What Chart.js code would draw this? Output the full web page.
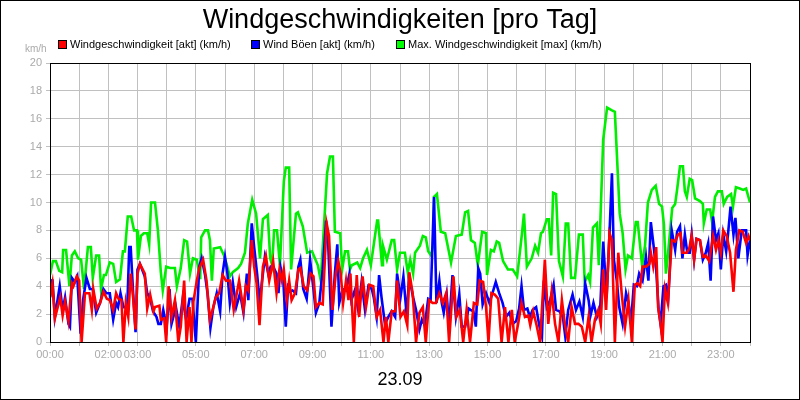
<!DOCTYPE html>
<html><head><meta charset="utf-8">
<script src="https://cdn.jsdelivr.net/npm/chart.js@4/dist/chart.umd.min.js"></script>
<style>html,body{margin:0;padding:0;background:#fff}#w{width:800px;height:400px;position:relative}</style>
</head><body><div id="w"><canvas id="c" width="800" height="400"></canvas></div>
<script>
const title = "Windgeschwindigkeiten [pro Tag]";
const dateLabel = "23.09";
const unitLabel = "km/h";
const seriesNames = ["Windgeschwindigkeit [akt] (km/h)", "Wind Böen [akt] (km/h)", "Max. Windgeschwindigkeit [max] (km/h)"];
const tickHours = [0,2,3,5,7,9,11,13,15,17,19,21,23];

// times in minutes after midnight, values in km/h
const redT = [0,5,10,21,26,31,38,45,48,55,60,65,72,81,86,89,96,103,110,117,123,130,136,141,147,151,156,161,166,171,176,180,185,195,200,206,213,216,225,228,235,239,244,250,257,264,269,276,281,287,291,295,302,307,315,322,329,336,341,348,355,362,370,378,389,398,403,408,415,420,425,431,438,444,451,459,466,472,477,481,487,492,497,504,511,515,522,529,536,542,547,554,561,569,574,581,588,593,598,603,609,614,618,625,631,636,643,650,657,665,672,679,686,691,696,703,710,714,721,728,735,739,746,753,760,767,773,780,787,794,801,808,815,821,830,836,843,850,857,864,872,879,884,891,897,902,908,915,922,929,936,943,950,956,963,970,977,984,988,994,1001,1008,1018,1025,1032,1039,1046,1053,1059,1066,1073,1080,1087,1094,1101,1108,1114,1121,1128,1133,1138,1144,1151,1156,1162,1169,1176,1183,1190,1197,1203,1208,1214,1219,1226,1233,1236,1241,1247,1251,1256,1260,1265,1271,1279,1286,1292,1297,1301,1310,1315,1320,1325,1330,1337,1343,1349,1356,1364,1370,1375,1380,1385,1392,1399,1406,1411,1418,1425,1432,1437,1440];
const redV = [3.2,4.2,1.7,3.2,1.9,2.9,1.5,4.2,4.0,4.7,4.4,0,3.5,3.5,2.3,3.8,2.4,2.8,3.6,3.1,3.0,2.3,3.5,3.1,3.0,0,2.8,1.8,4.9,3.2,0.9,4.9,5.6,4.9,2.4,3.4,2.2,2.5,2.6,1.6,1.7,0,4.0,1.8,3.0,0,1.1,4.4,0,2.5,0,2.9,4.4,5.3,5.9,4.4,1.6,2.5,3.2,3.5,4.8,4.4,4.4,2.3,4.4,2.3,4.0,3.7,7.3,5.4,4.2,1.2,5.4,6.2,4.4,5.8,3.5,5.2,4.4,5.2,3.0,4.4,3.0,3.5,5.2,5.3,4.0,3.7,4.9,4.7,2.5,2.8,2.7,8.5,7.6,2.3,4.9,5.8,4.9,2.8,4.4,3.0,4.9,0,4.8,1.8,4.7,2.5,4.1,4.0,1.8,2.3,0,1.8,0,2.2,2.2,4.4,1.8,2.2,1.2,5.0,3.5,0,2.1,2.5,0,3.0,2.8,2.8,3.5,2.8,3.5,0,4.7,1.8,2.3,0,2.3,0,2.8,2.7,4.4,4.3,2.5,0,3.5,3.4,3.1,0,2.5,0,2.3,0,1.3,2.8,1.8,1.9,1.2,2.2,1.2,0,5.9,1.3,3.6,1.3,0,3.0,1.3,0,2.5,1.3,1.3,1.1,0,1.8,0,1.6,2.3,1.3,5.2,2.3,7.8,7.3,0,6.4,3.5,1.1,3.0,0,4.1,4.2,4.0,5.4,5.4,5.6,6.4,5.4,6.8,2.5,1.3,0,3.8,2.8,7.3,7.2,7.7,7.8,6.4,6.4,6.7,7.6,5.9,7.4,7.3,6.1,6.2,5.8,7.6,6.6,7.3,6.4,8.0,7.6,6.4,3.6,6.6,8.0,7.9,7.1,7.6,7.3];

const blueT = [0,5,10,20,26,31,38,41,45,51,56,63,68,75,82,88,95,103,110,116,123,130,136,140,145,151,159,163,166,171,176,180,185,195,200,206,212,219,223,228,233,240,246,250,259,266,273,280,287,293,300,307,312,319,324,330,336,343,350,355,360,365,370,376,383,391,398,405,408,415,420,426,431,435,442,449,454,459,466,470,474,480,485,490,492,499,506,511,515,521,528,535,542,547,554,561,568,572,579,586,591,595,602,609,616,620,627,634,641,648,655,662,666,672,677,682,689,696,703,710,714,721,727,734,739,742,747,753,760,765,771,778,783,790,795,801,806,810,816,821,828,835,842,847,854,861,865,871,876,881,885,890,897,904,911,917,924,931,938,945,952,959,965,970,975,982,987,993,1000,1007,1012,1016,1022,1029,1036,1041,1048,1055,1060,1066,1075,1082,1089,1096,1101,1108,1112,1118,1125,1132,1138,1145,1151,1156,1160,1166,1171,1178,1185,1190,1195,1201,1207,1212,1219,1226,1231,1236,1241,1247,1252,1256,1262,1267,1272,1279,1286,1290,1296,1301,1306,1311,1316,1320,1325,1330,1337,1343,1349,1354,1359,1364,1370,1375,1380,1385,1391,1395,1400,1406,1410,1416,1423,1432,1435,1440];
const blueV = [3.2,4.5,1.8,4.0,2.3,3.2,1.3,1.1,4.6,4.3,4.7,0.6,3.0,4.6,3.8,3.8,2.1,2.8,3.8,3.5,3.5,1.6,2.8,2.5,3.5,2.5,2.5,6.8,6.8,3.5,0.7,5.2,5.6,4.7,3.5,3.1,2.2,1.8,1.3,1.3,2.3,1.1,3.8,1.3,2.5,1.1,3.1,1.6,3.1,3.1,0,5.4,6.0,4.8,3.5,1.0,2.5,3.5,2.2,4.9,6.1,4.9,2.8,4.3,2.5,3.5,2.1,4.9,3.0,8.5,6.8,4.9,3.0,4.0,6.1,4.9,5.4,5.4,4.9,3.5,5.4,4.4,1.1,4.2,3.6,3.7,3.5,5.4,5.9,3.8,3.1,5.9,3.8,2.1,2.8,5.2,8.7,7.3,1.1,4.9,7.0,2.8,3.8,3.7,4.9,3.0,3.7,2.3,4.3,2.3,4.0,3.8,3.2,1.8,4.8,3.2,1.3,1.8,2.2,1.8,4.9,3.2,4.7,1.8,4.9,4.1,3.2,2.3,0.9,1.6,1.2,3.1,3.0,10.4,2.8,4.4,2.8,2.1,3.4,1.1,4.8,1.8,3.4,1.1,1.1,2.4,2.3,2.2,1.1,5.3,4.9,2.7,3.5,2.8,3.6,4.3,3.5,2.8,1.8,2.1,1.3,1.5,2.4,4.0,2.3,2.4,1.8,2.3,2.5,1.1,0.4,4.4,2.5,3.0,4.1,2.3,2.2,1.8,0.4,2.3,3.4,2.3,2.9,1.8,4.2,3.0,1.9,2.8,1.8,2.5,7.2,3.2,7.8,12.1,5.9,4.4,2.5,1.3,3.5,2.8,1.3,4.1,4.0,4.9,4.4,6.1,4.4,8.6,7.1,5.2,2.3,1.3,4.0,4.1,3.2,8.0,6.6,7.9,8.3,6.0,7.7,6.4,6.4,7.7,5.9,7.4,7.3,5.9,6.4,7.1,4.4,9.0,7.3,7.8,5.2,7.7,6.5,7.8,9.7,7.7,8.9,6.0,8.0,8.0,6.2,7.3];

const greenT = [0,6,12,19,25,27,33,40,45,51,58,64,70,78,84,88,95,101,105,111,115,123,130,136,144,150,154,160,167,173,179,181,187,193,200,204,208,216,222,228,232,239,247,257,261,269,276,282,288,294,302,309,311,319,325,329,333,337,350,358,364,370,376,387,393,401,407,416,424,432,438,448,453,457,461,467,473,481,485,492,496,506,510,520,529,539,551,557,570,576,582,586,597,601,607,613,617,621,632,638,644,652,660,673,675,683,685,693,703,708,714,720,730,736,741,747,751,761,767,773,778,784,788,790,796,804,813,825,835,847,854,860,866,874,880,889,897,899,907,913,919,924,932,942,952,961,971,975,981,991,998,1004,1010,1014,1022,1026,1031,1035,1041,1047,1055,1061,1066,1072,1080,1088,1096,1100,1107,1111,1117,1125,1129,1138,1146,1156,1162,1172,1178,1184,1189,1197,1205,1209,1218,1224,1230,1238,1246,1253,1259,1263,1267,1271,1280,1286,1290,1296,1302,1306,1310,1316,1321,1327,1337,1343,1345,1351,1358,1362,1368,1374,1382,1386,1393,1401,1405,1411,1419,1426,1432,1440];
const greenV = [4.8,5.8,5.8,5.1,5.0,6.6,6.6,4.0,6.2,6.5,6.0,5.9,3.8,6.8,6.8,4.6,6.2,6.2,3.8,4.8,4.8,5.7,5.6,4.3,4.5,6.5,6.5,9.0,9.0,8.0,8.0,5.9,7.6,7.8,7.8,7.0,10.0,10.0,8.0,5.0,3.7,5.4,5.3,5.3,4.0,5.3,7.3,7.2,4.9,6.0,5.9,4.5,7.5,8.0,8.0,7.3,4.4,6.7,6.8,6.2,5.5,4.7,5.0,5.3,5.6,6.4,8.5,10.2,9.2,6.0,8.8,9.1,6.0,5.5,8.0,8.0,5.5,11.5,12.5,12.5,5.2,9.2,9.3,8.3,6.4,6.5,5.5,4.4,12.1,13.3,13.3,7.9,7.8,5.2,6.5,6.5,5.2,5.5,5.7,5.3,6.0,6.6,5.5,8.7,8.7,5.5,6.9,5.9,7.3,7.3,5.2,6.4,6.4,5.0,5.9,4.9,6.4,6.9,7.6,7.5,6.5,6.2,6.9,10.4,10.6,7.9,7.8,5.7,7.6,7.7,9.3,9.4,7.3,7.1,5.5,7.9,7.8,4.8,6.6,6.5,7.2,7.1,5.8,5.2,5.2,4.7,7.8,9.2,5.4,6.0,6.9,6.4,7.8,7.9,8.8,8.8,6.2,10.7,10.6,5.8,4.7,8.5,8.5,4.6,4.6,7.7,7.7,4.3,4.8,4.3,8.2,8.5,5.5,14.5,16.8,16.6,16.5,9.2,7.8,5.2,6.2,6.0,8.6,8.6,5.5,6.9,10.0,10.9,11.2,9.9,9.7,8.4,4.9,6.2,9.6,9.9,10.9,12.6,12.6,10.8,10.4,11.7,11.6,10.3,10.1,9.9,8.5,9.5,9.5,8.6,10.4,10.8,10.8,9.9,10.4,10.6,9.7,11.1,11.0,10.9,11.0,10.0];

const colors = ["#ff0000", "#0000ff", "#00ee00"];
const FONT = "'Liberation Sans', Arial, sans-serif";

function pts(t, v) { return t.map((m, i) => ({x: m, y: v[i]})); }

const deco = {
  id: 'deco',
  afterDraw(chart) {
    const ctx = chart.ctx, a = chart.chartArea;
    ctx.save();
    ctx.strokeStyle = '#000'; ctx.lineWidth = 1;
    ctx.strokeRect(a.left + 0.5, a.top + 0.5, a.right - a.left, a.bottom - a.top);
    ctx.strokeRect(0.5, 0.5, 799, 399);
    ctx.fillStyle = '#000'; ctx.textAlign = 'center'; ctx.textBaseline = 'alphabetic';
    ctx.font = "27px " + FONT;
    ctx.fillText(title, 400, 28);
    ctx.font = "18px " + FONT;
    ctx.fillText(dateLabel, 400, 385);
    ctx.fillStyle = '#aaa'; ctx.font = "10px " + FONT; ctx.textAlign = 'left';
    ctx.fillText(unitLabel, 25, 52);
    // legend
    const xs = [58, 251, 396];
    ctx.font = "11px " + FONT; ctx.textBaseline = 'middle';
    seriesNames.forEach((n, i) => {
      ctx.fillStyle = colors[i] === "#00ee00" ? "#00ff00" : colors[i];
      ctx.fillRect(xs[i], 40, 9, 9);
      ctx.strokeStyle = '#000'; ctx.strokeRect(xs[i] + 0.5, 40.5, 8, 8);
      ctx.fillStyle = '#000';
      ctx.fillText(n, xs[i] + 12, 45);
    });
    ctx.restore();
  }
};

new Chart(document.getElementById('c'), {
  type: 'line',
  data: {
    datasets: seriesNames.map((n, i) => ({
      label: n,
      data: pts([redT, blueT, greenT][i], [redV, blueV, greenV][i]),
      borderColor: colors[i], backgroundColor: colors[i],
      borderWidth: 2.6, pointRadius: 0, tension: 0, fill: false
    }))
  },
  options: {
    responsive: false, animation: false,
    layout: { padding: { top: 63, right: 50, bottom: 38, left: 0 } },
    plugins: { legend: { display: false }, title: { display: false }, tooltip: { enabled: false } },
    scales: {
      x: {
        type: 'linear', min: 0, max: 1440,
        afterBuildTicks: s => { s.ticks = []; for (let h = 0; h <= 24; h++) s.ticks.push({value: h * 60}); },
        afterFit: s => { s.height = 20; },
        grid: { color: '#c0c0c0', drawTicks: true, tickLength: 4 },
        border: { display: false },
        ticks: {
          autoSkip: false, maxRotation: 0, color: '#aaa', font: { family: FONT, size: 11 }, padding: 2,
          callback: v => { const h = v / 60; return tickHours.includes(h) ? String(h).padStart(2, '0') + ':00' : ''; }
        }
      },
      y: {
        min: 0, max: 20,
        afterFit: s => { s.width = 50; },
        grid: { color: '#c0c0c0', tickLength: 4 },
        border: { display: false },
        ticks: { stepSize: 2, color: '#aaa', font: { family: FONT, size: 11 }, padding: 4 }
      }
    }
  },
  plugins: [deco]
});
</script></body></html>
